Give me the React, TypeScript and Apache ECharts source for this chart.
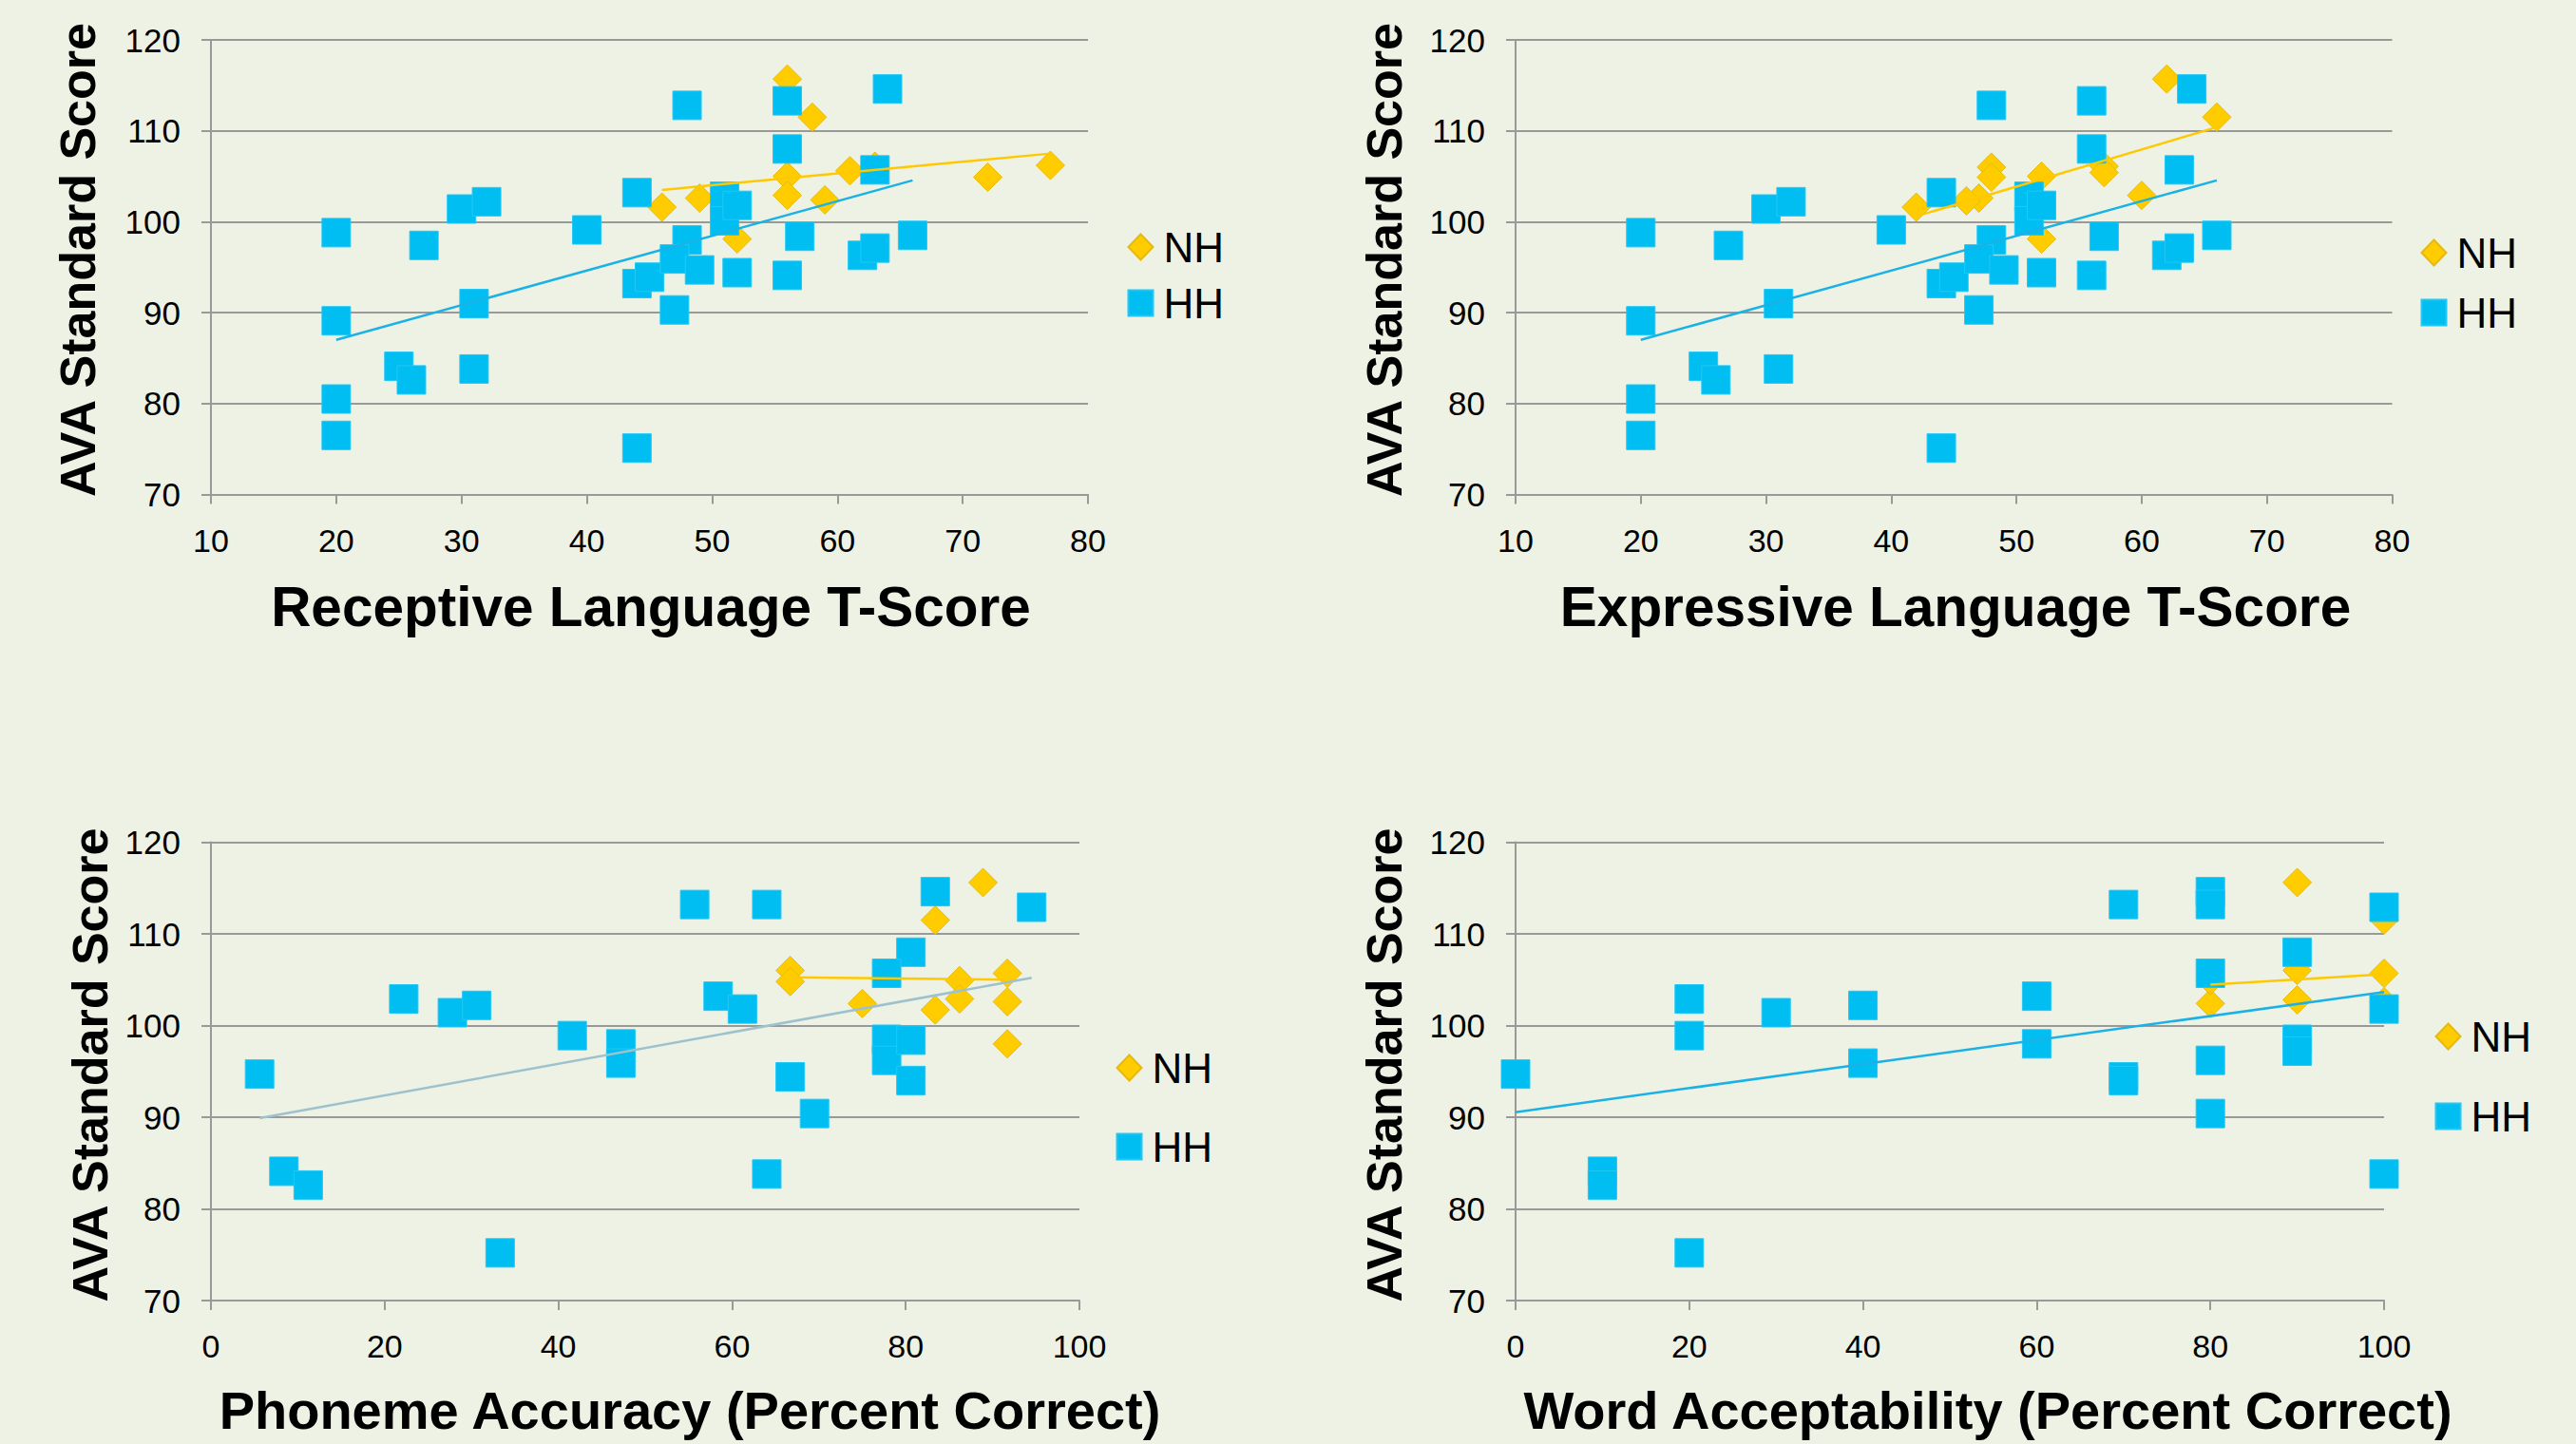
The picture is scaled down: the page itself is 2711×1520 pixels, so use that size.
import React, { useEffect, useRef } from "react";
import * as echarts from "echarts";

// ---------- Data ----------
// Panel 1: Receptive Language T-Score
const recNH_x = [56, 58, 56, 56, 61, 63, 72, 77, 49, 46, 59, 52];
const recNH_y = [115.7, 111.5, 105.0, 102.9, 105.6, 106.1, 104.9, 106.2, 102.6, 101.6, 102.4, 98.1];
const recHH_x = [20, 20, 20, 20, 27, 30, 32, 25, 26, 31, 31, 40, 44, 44, 44, 45, 48, 56, 56, 64, 63, 51, 51, 52, 48, 47, 49, 47, 52, 56, 57, 62, 63, 66];
const recHH_y = [98.8, 89.1, 80.5, 76.5, 97.4, 101.4, 102.2, 84.1, 82.6, 91.0, 83.8, 99.1, 103.2, 93.2, 75.1, 93.9, 112.8, 113.3, 108.0, 114.6, 105.7, 102.8, 100.1, 101.8, 98.0, 95.9, 94.7, 90.3, 94.4, 94.1, 98.4, 96.3, 97.1, 98.5];
const recNH_trend = [[46, 103.5], [77, 107.5]];
const recHH_trend = [[20, 87.0], [66, 104.55]];

// Panel 2: Expressive Language T-Score
const expNH_x = [62, 66, 48, 48, 52, 57, 57, 60, 47, 46, 52, 42];
const expNH_y = [115.7, 111.5, 106.0, 104.9, 105.0, 106.1, 105.4, 102.9, 102.6, 102.3, 98.1, 101.6];
const expHH_x = [20, 20, 20, 20, 27, 30, 32, 25, 26, 31, 31, 40, 44, 44, 44, 45, 48, 56, 56, 64, 63, 51, 51, 52, 48, 47, 49, 47, 52, 56, 57, 62, 63, 66];
const expHH_y = [98.8, 89.1, 80.5, 76.5, 97.4, 101.4, 102.2, 84.1, 82.6, 91.0, 83.8, 99.1, 103.2, 93.2, 75.1, 93.9, 112.8, 113.3, 108.0, 114.6, 105.7, 102.8, 100.1, 101.8, 98.0, 95.9, 94.7, 90.3, 94.4, 94.1, 98.4, 96.3, 97.1, 98.5];
const expNH_trend = [[42, 100.6], [66, 110.4]];
const expHH_trend = [[20, 87.0], [66, 104.55]];

// Panel 3: Phoneme Accuracy (Percent Correct)
const phNH_x = [88.9, 83.4, 66.7, 66.7, 75.0, 83.4, 86.2, 86.2, 91.7, 91.7, 91.7];
const phNH_y = [115.6, 111.5, 106.0, 104.8, 102.4, 101.7, 104.9, 102.9, 105.7, 102.6, 98.0];
const phHH_x = [5.6, 8.4, 11.2, 22.2, 27.8, 30.6, 33.3, 41.6, 47.2, 47.2, 55.7, 64.0, 58.4, 61.2, 66.7, 69.5, 64.0, 83.4, 94.5, 80.6, 77.8, 77.8, 77.8, 80.6, 80.6];
const phHH_y = [94.7, 84.1, 82.6, 102.9, 101.4, 102.2, 75.2, 98.9, 98.0, 95.9, 113.2, 113.2, 103.2, 101.8, 94.4, 90.4, 83.8, 114.6, 112.9, 108.0, 105.7, 98.5, 96.2, 98.4, 94.0];
const phNH_trend = [[66.7, 105.25], [91.7, 105.0]];
const phHH_trend = [[5.6, 89.9], [94.5, 105.2]];

// Panel 4: Word Acceptability (Percent Correct)
const wNH_x = [90, 100, 90, 90, 100, 100, 80, 80];
const wNH_y = [115.6, 111.5, 106.0, 102.8, 105.7, 102.6, 102.4, 104.9];
const wHH_x = [0, 10, 10, 20, 20, 20, 30, 40, 40, 60, 60, 70, 70, 70, 80, 80, 80, 80, 80, 90, 90, 90, 100, 100, 100];
const wHH_y = [94.7, 84.1, 82.6, 102.9, 98.9, 75.2, 101.4, 102.2, 95.9, 103.2, 98.0, 113.2, 94.4, 94.0, 114.6, 113.2, 105.7, 96.2, 90.4, 108.0, 98.5, 97.2, 112.9, 101.8, 83.8];
const wNH_trend = [[80, 104.45], [100, 105.6]];
const wHH_trend = [[0, 90.55], [100, 103.65]];

const xTitles = [
  "Receptive Language T-Score",
  "Expressive Language T-Score",
  "Phoneme Accuracy (Percent Correct)",
  "Word Acceptability (Percent Correct)",
];
const yTitle = "AVA Standard Score";
const legendNames = ["NH", "HH"];

// ---------- Styling / layout ----------
const BG = "#EEF2E5";
const GRID_GRAY = "#999999";
const NH_COLOR = "#FFCC00";
const HH_COLOR = "#00BEF2";
const FONT = "Liberation Sans, Arial, Helvetica, sans-serif";

const zip = (xs: number[], ys: number[]) => xs.map((x, i) => [x, ys[i]]);

const panels = [
  {
    grid: { left: 222, top: 42, width: 923, height: 478.5 },
    x: { min: 10, max: 80, interval: 10 },
    nh: zip(recNH_x, recNH_y), hh: zip(recHH_x, recHH_y),
    nhT: recNH_trend, hhT: recHH_trend, hhTColor: "#1AB2E6",
    legend: { left: 1186.5, top: 238, gap: 15 },
    xt: { x: 685, y: 638, size: 58.5 }, yt: { x: 82, y: 273.5 },
  },
  {
    grid: { left: 1595, top: 42, width: 922.5, height: 478.5 },
    x: { min: 10, max: 80, interval: 10 },
    nh: zip(expNH_x, expNH_y), hh: zip(expHH_x, expHH_y),
    nhT: expNH_trend, hhT: expHH_trend, hhTColor: "#1AB2E6",
    legend: { left: 2547.5, top: 244, gap: 19 },
    xt: { x: 2058, y: 638, size: 58.5 }, yt: { x: 1457, y: 273.5 },
  },
  {
    grid: { left: 222, top: 886.5, width: 914, height: 482.5 },
    x: { min: 0, max: 100, interval: 20 },
    nh: zip(phNH_x, phNH_y), hh: zip(phHH_x, phHH_y),
    nhT: phNH_trend, hhT: phHH_trend, hhTColor: "#9DC2CE",
    legend: { left: 1174.5, top: 1102, gap: 39 },
    xt: { x: 726, y: 1484, size: 56 }, yt: { x: 95, y: 1121 },
  },
  {
    grid: { left: 1595, top: 886.5, width: 914, height: 482.5 },
    x: { min: 0, max: 100, interval: 20 },
    nh: zip(wNH_x, wNH_y), hh: zip(wHH_x, wHH_y),
    nhT: wNH_trend, hhT: wHH_trend, hhTColor: "#1AB2E6",
    legend: { left: 2562.5, top: 1069, gap: 40 },
    xt: { x: 2092, y: 1484, size: 56 }, yt: { x: 1457, y: 1121 },
  },
];

function buildOption() {
  const axisLine = { show: true, lineStyle: { color: GRID_GRAY, width: 2 } };
  const axisTick = { show: true, length: 10, lineStyle: { color: GRID_GRAY, width: 2 } };

  const grid = panels.map((p) => ({ ...p.grid, containLabel: false }));
  const xAxis = panels.map((p, i) => ({
    type: "value",
    gridIndex: i,
    min: p.x.min,
    max: p.x.max,
    interval: p.x.interval,
    axisLine,
    axisTick,
    splitLine: { show: false },
    axisLabel: { fontSize: 34, color: "#000", fontFamily: FONT, margin: 31 },
  }));
  const yAxis = panels.map((p, i) => ({
    type: "value",
    gridIndex: i,
    min: 70,
    max: 120,
    interval: 10,
    axisLine,
    axisTick,
    splitLine: { show: true, lineStyle: { color: GRID_GRAY, width: 2 } },
    axisLabel: { fontSize: 35, color: "#000", fontFamily: FONT, margin: 32 },
  }));

  const series: any[] = [];
  panels.forEach((p, i) => {
    series.push({
      type: "scatter",
      name: "NH",
      xAxisIndex: i,
      yAxisIndex: i,
      symbol: "diamond",
      symbolSize: [30, 30],
      itemStyle: { color: NH_COLOR, opacity: 1, borderColor: "#E5BA10", borderWidth: 1 },
      data: p.nh,
    });
    series.push({
      type: "line",
      name: "HH trend",
      xAxisIndex: i,
      yAxisIndex: i,
      showSymbol: false,
      symbol: "none",
      silent: true,
      lineStyle: { color: p.hhTColor, width: 2.5 },
      data: p.hhT,
    });
    series.push({
      type: "scatter",
      name: "HH",
      xAxisIndex: i,
      yAxisIndex: i,
      symbol: "rect",
      symbolSize: [30, 30],
      itemStyle: { color: HH_COLOR, opacity: 1, borderColor: "#22C8F5", borderWidth: 1 },
      data: p.hh,
    });
    series.push({
      type: "line",
      name: "NH trend",
      xAxisIndex: i,
      yAxisIndex: i,
      showSymbol: false,
      symbol: "none",
      silent: true,
      lineStyle: { color: "#FFC800", width: 2.5 },
      data: p.nhT,
    });
  });

  const legend = panels.map((p) => ({
    data: [
      { name: legendNames[0], icon: "diamond" },
      { name: legendNames[1], icon: "rect" },
    ],
    orient: "vertical",
    left: p.legend.left,
    top: p.legend.top,
    itemWidth: 26,
    itemHeight: 27,
    itemGap: p.legend.gap,
    padding: 0,
    selectedMode: false,
    itemStyle: { opacity: 1 },
    textStyle: { fontSize: 44, color: "#000", fontFamily: FONT, lineHeight: 40, padding: [0, 0, 0, 6] },
  }));

  const graphic: any[] = [];
  panels.forEach((p, i) => {
    graphic.push({
      type: "text",
      x: p.xt.x,
      y: p.xt.y,
      style: {
        text: xTitles[i],
        fill: "#000",
        font: `bold ${p.xt.size}px ${FONT}`,
        textAlign: "center",
        textVerticalAlign: "middle",
      },
    });
    graphic.push({
      type: "text",
      x: p.yt.x,
      y: p.yt.y,
      rotation: Math.PI / 2,
      style: {
        text: yTitle,
        fill: "#000",
        font: `bold 52px ${FONT}`,
        textAlign: "center",
        textVerticalAlign: "middle",
      },
    });
  });

  return {
    animation: false,
    backgroundColor: BG,
    grid,
    xAxis,
    yAxis,
    legend,
    series,
    graphic,
  };
}

export default function App() {
  const ref = useRef<HTMLDivElement>(null);
  useEffect(() => {
    document.body.style.margin = "0";
    const chart = echarts.init(ref.current!, null, { renderer: "svg" });
    chart.setOption(buildOption() as any);
    return () => chart.dispose();
  }, []);
  return (
    <div
      ref={ref}
      style={{ position: "absolute", left: 0, top: 0, width: 2711, height: 1520 }}
    />
  );
}
